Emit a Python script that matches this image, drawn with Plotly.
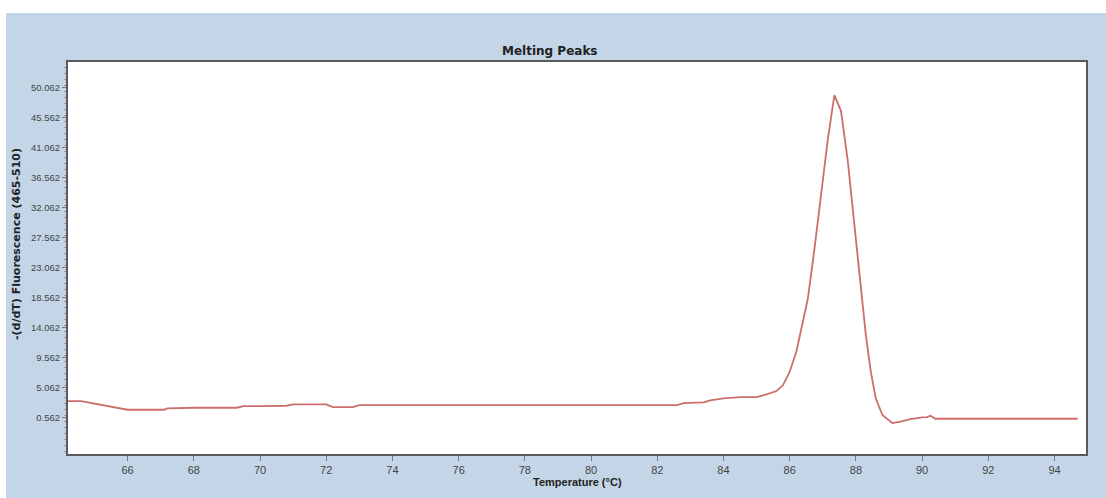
import plotly.graph_objects as go

# Data
temperature = [64.2, 64.6, 64.8, 65.2, 65.6, 66.0, 66.5, 67.1, 67.2, 68.0, 69.3, 69.5,
               70.0, 70.8, 71.0, 72.0, 72.2, 72.8, 73.0, 76.0, 80.0, 82.6, 82.8, 83.4,
               83.6, 84.0, 84.5, 85.0, 85.3, 85.6, 85.8, 86.0, 86.2, 86.35, 86.55, 86.75,
               86.95, 87.15, 87.35, 87.55, 87.75, 87.95, 88.15, 88.3, 88.45, 88.6, 88.8,
               89.1, 89.35, 89.65, 90.0, 90.15, 90.25, 90.4, 92.0, 94.7]
fluor_deriv = [3.1, 3.1, 2.9, 2.5, 2.1, 1.8, 1.8, 1.8, 2.0, 2.1, 2.1, 2.35,
               2.35, 2.4, 2.6, 2.6, 2.2, 2.2, 2.5, 2.5, 2.5, 2.5, 2.8, 2.9,
               3.2, 3.5, 3.7, 3.7, 4.1, 4.6, 5.5, 7.5, 10.5, 14.0, 18.5, 26.0,
               34.3, 42.3, 49.0, 46.6, 39.3, 30.0, 20.2, 13.0, 7.5, 3.5, 1.0,
               -0.2, 0.0, 0.4, 0.65, 0.7, 0.9, 0.45, 0.45, 0.45]

x_ticks = [66, 68, 70, 72, 74, 76, 78, 80, 82, 84, 86, 88, 90, 92, 94]
y_ticks = [0.562, 5.062, 9.562, 14.062, 18.562, 23.062, 27.562, 32.062,
           36.562, 41.062, 45.562, 50.062]
y_tick_labels = ["0.562", "5.062", "9.562", "14.062", "18.562", "23.062", "27.562",
                 "32.062", "36.562", "41.062", "45.562", "50.062"]

W, H = 1106, 498
L, R, T, B = 68, 20, 62, 44
pw, ph = W - L - R, H - T - B

def px(xp):
    return (xp - L) / pw

def py(yp):
    return (H - B - yp) / ph

tickfam = "Liberation Sans, Arial, sans-serif"
boldfam = "DejaVu Sans, sans-serif"
blue = "#c3d5e6"

fig = go.Figure()
fig.add_trace(go.Scatter(x=temperature, y=fluor_deriv, mode="lines",
                         line=dict(color="#cc6e6c", width=1.8), hoverinfo="skip"))

fig.update_layout(
    width=W, height=H,
    margin=dict(l=L, r=R, t=T, b=B),
    paper_bgcolor=blue, plot_bgcolor="white",
    showlegend=False,
    xaxis=dict(range=[64.2, 94.95], tickvals=x_ticks, ticks="outside", ticklen=5,
               tickcolor="#777", showgrid=False, zeroline=False, showline=True,
               linecolor="#5a5a5a", linewidth=2, mirror=True,
               tickfont=dict(family=tickfam, size=11, color="#444")),
    yaxis=dict(range=[-4.84, 53.96], tickvals=y_ticks, ticktext=y_tick_labels,
               ticks="outside", ticklen=4, tickcolor="#777", showgrid=False,
               zeroline=False, showline=True, linecolor="#5a5a5a", linewidth=2,
               mirror=True, tickfont=dict(family=tickfam, size=9.5, color="#444"),
               minor=dict(dtick=0.9, ticks="outside", ticklen=2, tickcolor="#999")),
    shapes=[
        dict(type="rect", xref="paper", yref="paper", x0=px(0), x1=px(W),
             y0=py(13), y1=py(0), fillcolor="white", line=dict(width=0)),
        dict(type="rect", xref="paper", yref="paper", x0=px(0), x1=px(6),
             y0=py(H), y1=py(0), fillcolor="white", line=dict(width=0)),
    ],
    annotations=[
        dict(text="<b>Melting Peaks</b>", xref="paper", yref="paper", x=px(550), y=py(42),
             showarrow=False, font=dict(family=boldfam, size=12, color="#222")),
        dict(text="<b>-(d/dT) Fluorescence (465-510)</b>", xref="paper", yref="paper",
             x=px(21), y=py(244), xanchor="center", yanchor="middle", textangle=-90,
             showarrow=False, xshift=-5,
             font=dict(family=boldfam, size=11, color="#222")),
        dict(text="<b>Temperature (°C)</b>", xref="paper", yref="paper", x=px(577), y=py(490),
             showarrow=False, font=dict(family=tickfam, size=11, color="#222")),
    ],
)

fig.write_html("out.html")
